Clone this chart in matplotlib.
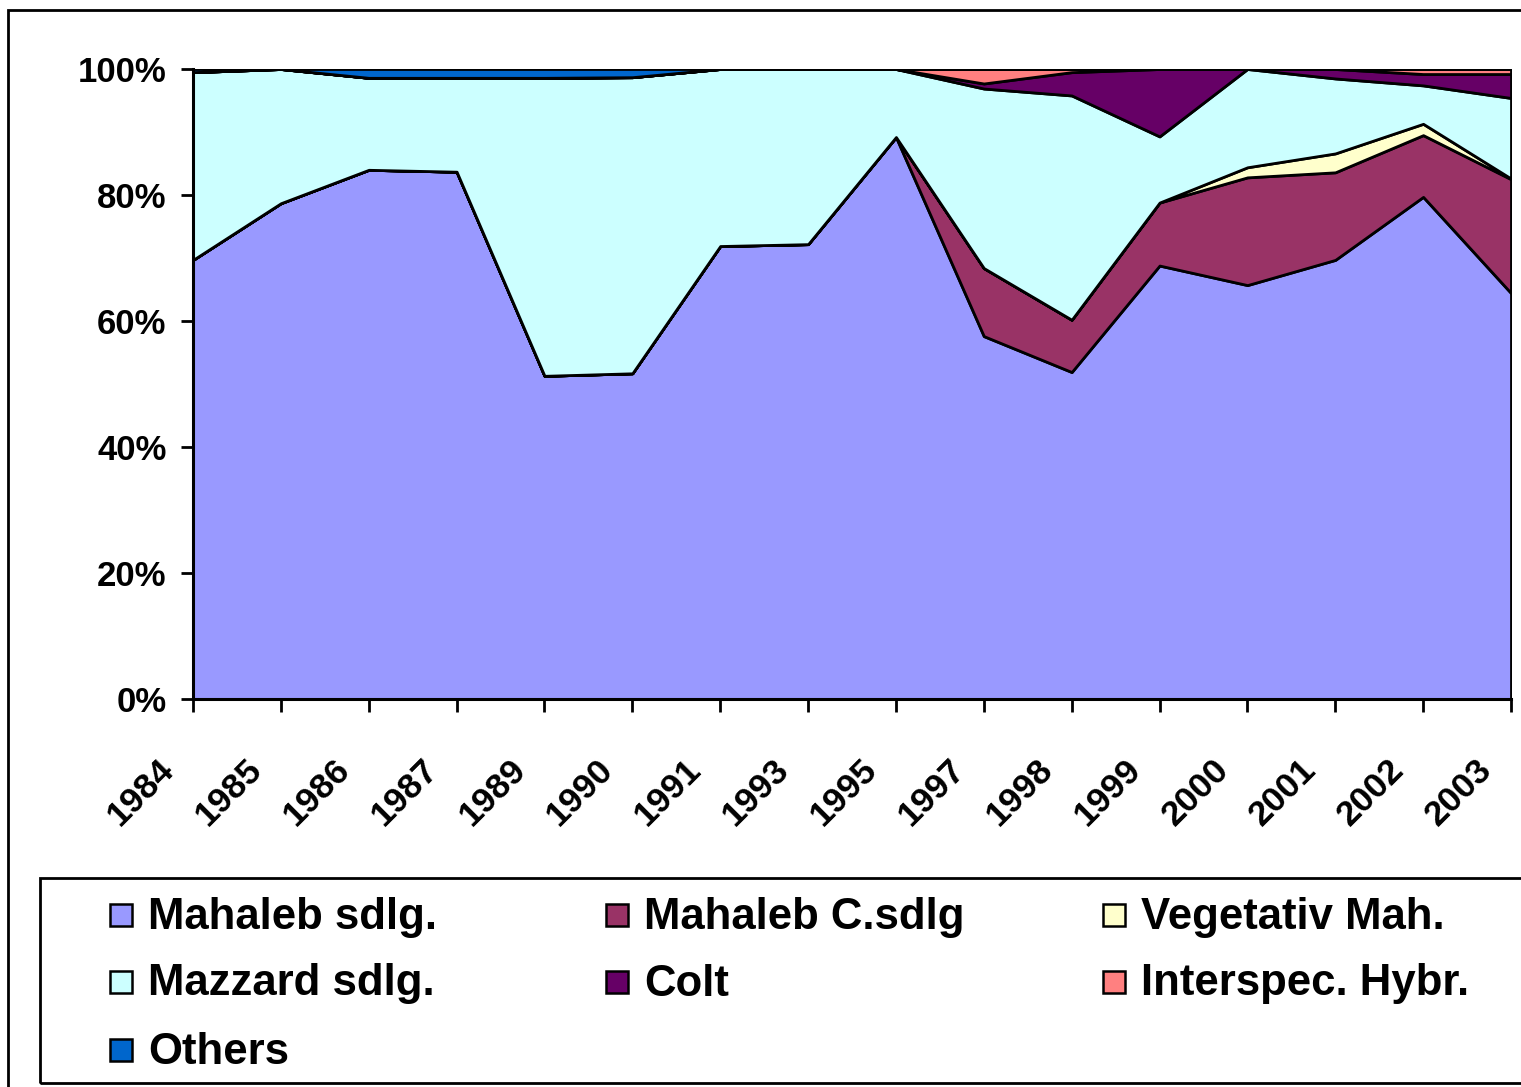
import numpy as np
import matplotlib.pyplot as plt
import matplotlib.patches as mpatches
from matplotlib.transforms import ScaledTranslation

plt.rcParams['font.family'] = ['Liberation Sans', 'DejaVu Sans']
plt.rcParams['font.weight'] = 'bold'

# Data (percent share per year)
years = ['1984', '1985', '1986', '1987', '1989', '1990', '1991', '1993',
         '1995', '1997', '1998', '1999', '2000', '2001', '2002', '2003']
mahaleb_sdlg = [69.7, 78.7, 84.0, 83.7, 51.3, 51.7, 71.9, 72.2,
                89.2, 57.6, 51.9, 68.8, 65.7, 69.7, 79.7, 64.5]
mahaleb_c_sdlg = [0, 0, 0, 0, 0, 0, 0, 0,
                  0, 10.8, 8.3, 10.0, 17.1, 13.9, 9.8, 18.1]
vegetativ_mah = [0, 0, 0, 0, 0, 0, 0, 0,
                 0, 0, 0, 0, 1.6, 3.0, 1.8, 0.1]
mazzard_sdlg = [29.8, 21.3, 14.6, 14.9, 47.3, 47.0, 28.1, 27.8,
                10.8, 28.5, 35.6, 10.5, 15.6, 11.9, 6.1, 12.8]
colt = [0, 0, 0, 0, 0, 0, 0, 0,
        0, 0.8, 3.7, 10.7, 0, 1.5, 1.8, 3.8]
interspec_hybr = [0, 0, 0, 0, 0, 0, 0, 0,
                  0, 2.3, 0.5, 0, 0, 0, 0.8, 0.8]
others = [0.5, 0, 1.4, 1.4, 1.4, 1.3, 0, 0,
          0, 0, 0, 0, 0, 0, 0, 0]

labels = ['Mahaleb sdlg.', 'Mahaleb C.sdlg', 'Vegetativ Mah.', 'Mazzard sdlg.',
          'Colt', 'Interspec. Hybr.', 'Others']
colors = ['#9999FF', '#993366', '#FFFFCC', '#CCFFFF', '#660066', '#FF8080', '#0066CC']

series = np.array([mahaleb_sdlg, mahaleb_c_sdlg, vegetativ_mah, mazzard_sdlg,
                   colt, interspec_hybr, others], dtype=float)
# 100% stacked: normalise each year
series = series / series.sum(axis=0) * 100

W, H = 1521, 1087
fig = plt.figure(figsize=(W / 100, H / 100), dpi=100)
ax = fig.add_axes([193 / W, 1 - 699 / H, (1511 - 193) / W, (699 - 69) / H])

x = np.arange(len(years))
ax.stackplot(x, series, colors=colors, edgecolor='black', linewidth=2.0)

ax.set_xlim(0, len(years) - 1)
ax.set_ylim(0, 100)
ax.set_yticks([0, 20, 40, 60, 80, 100])
ax.set_yticklabels(['0%', '20%', '40%', '60%', '80%', '100%'], fontsize=25, fontweight='bold')
ax.set_xticks(x)
ax.set_xticklabels(years, fontsize=25.5, fontweight='bold', rotation=45,
                   ha='right', va='center', rotation_mode='anchor')
ax.tick_params(axis='y', direction='out', length=9, width=2, pad=10)
ax.tick_params(axis='x', direction='out', length=9, width=2, pad=38)
shift = ScaledTranslation(-24 / 100, 0, fig.dpi_scale_trans)
for lab in ax.get_xticklabels():
    lab.set_transform(lab.get_transform() + shift)
for s in ['top', 'right']:
    ax.spines[s].set_visible(False)
for s in ['left', 'bottom']:
    ax.spines[s].set_linewidth(2.2)

# outer chart frame (extends past right/bottom edge)
fig.patches.append(mpatches.Rectangle((8 / W, -0.05), 1.1, 1 - 10 / H + 0.05,
                                      transform=fig.transFigure, fill=False,
                                      edgecolor='black', linewidth=2))

# legend box
fig.patches.append(mpatches.Rectangle((40 / W, 1 - 1083 / H), 1.1, (1083 - 878) / H,
                                      transform=fig.transFigure, fill=False,
                                      edgecolor='black', linewidth=2))

col_x = [110, 606, 1103]
row_y = [915, 982, 1050]
for i, (lab, c) in enumerate(zip(labels, colors)):
    r, cidx = divmod(i, 3)
    px, py = col_x[cidx], row_y[r]
    fig.patches.append(mpatches.Rectangle((px / W, 1 - (py + 11) / H), 22 / W, 22 / H,
                                          transform=fig.transFigure, facecolor=c,
                                          edgecolor='black', linewidth=1.8))
    fig.text((px + 38) / W, 1 - (py + 2) / H, lab, fontsize=31.5, fontweight='bold',
             ha='left', va='center')

fig.savefig('out.png', dpi=100)
